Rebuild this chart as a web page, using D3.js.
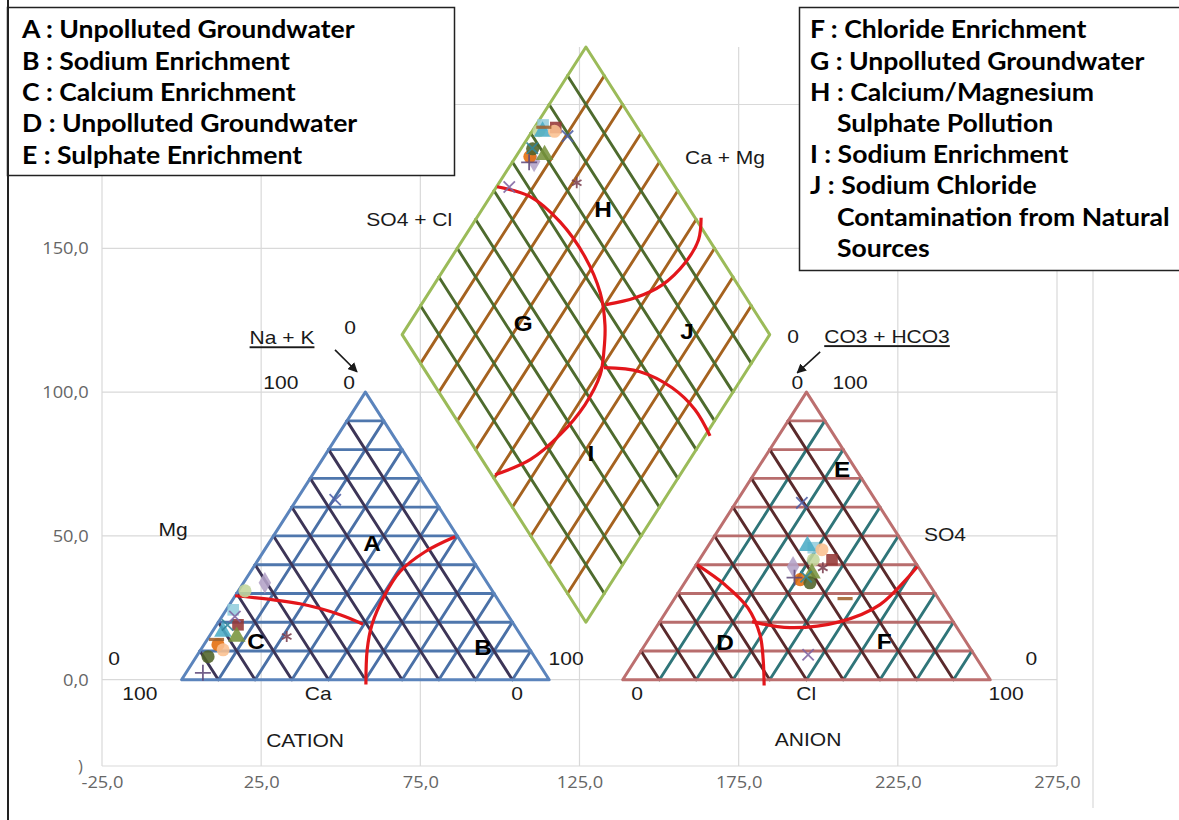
<!DOCTYPE html>
<html>
<head>
<meta charset="utf-8">
<title>Piper diagram</title>
<script src="https://cdn.jsdelivr.net/npm/d3@7"></script>
<style>
  body { margin: 0; background: #fff; }
  svg { display: block; }
  .tk { font-family: "Open Sans", sans-serif; font-size: 16.5px; fill: #666; }
  .lab { font-family: "Liberation Sans", Arial, sans-serif; font-size: 19px; fill: #1a1a1a; }
  .zone { font-family: "Liberation Sans", Arial, sans-serif; font-weight: bold; font-size: 22px; fill: #000; }
  .leg { font-family: Lato, sans-serif; font-weight: bold; font-size: 24px; fill: #000; }
</style>
</head>
<body>
<script>
// ---- samples (meq %) ----
// cations
var mg  = [33.7, 30.9, 24.3, 19.1, 16.7, 15.0, 12.2, 10.4,  8.0,  2.4, 15.0, 62.6, 19.0, 22.0, 14.0];
var nak = [ 5.8,  1.8,  1.9,  5.8,  2.9,  7.5,  3.8,  6.1,  3.2,  4.6, 21.1, 10.5,  3.0,  3.5,  2.5];
var ca  = [60.5, 67.3, 73.8, 75.1, 80.4, 77.5, 84.0, 83.5, 88.8, 93.0, 63.9, 26.9, 78.0, 74.5, 83.5];
// anions
var so4  = [39.3, 41.7, 45.9, 41.7, 46.5, 37.0, 34.8, 45.2, 33.7, 35.5, 38.9, 61.5, 35.8,  8.7, 28.2];
var cl   = [26.7, 31.0, 28.9, 36.1, 27.0, 33.0, 30.9, 31.6, 34.1, 29.0, 35.0, 18.0, 32.0, 46.1, 46.4];
var hco3 = [34.0, 27.3, 25.2, 22.2, 26.5, 30.0, 34.3, 23.2, 32.2, 35.5, 26.1, 20.5, 32.2, 45.2, 25.4];

var xTicks = [-25, 25, 75, 125, 175, 225, 275];
var yTicks = [0, 50, 100, 150];
var yGrid = [-30, 0, 50, 100, 150, 200];

var legendLeft = ["A : Unpolluted Groundwater", "B : Sodium Enrichment", "C : Calcium Enrichment",
                  "D : Unpolluted Groundwater", "E : Sulphate Enrichment"];
var legendRight = ["F : Chloride Enrichment", "G : Unpolluted Groundwater", "H : Calcium/Magnesium",
                   "Sulphate Pollution", "I : Sodium Enrichment", "J :  Sodium Chloride",
                   "Contamination from Natural", "Sources"];

// ---- geometry (chart units: triangle height = 100) ----
var S = 200 / Math.sqrt(3), GAP = 0.2 * S, AX = S + GAP, DX = S + GAP / 2, DY = 20;
function cat(na, m) { return [S * na / 100 + S / 2 * m / 100, m]; }
function an(c, s) { return [AX + S * c / 100 + S / 2 * s / 100, s]; }
function dia(p, q) { return [DX + S / 2 * (q - p), DY + 100 * (p + q)]; }

var W = 1179, H = 820, SX = 1.107;
var svg = d3.select("body").append("svg").attr("width", W).attr("height", H);
var x = d3.scaleLinear().domain([-25, 275]).range([102, 1057]);
var y = d3.scaleLinear().domain([-30, 220]).range([766, 47]);

// gridlines
var grid = svg.append("g").attr("stroke", "#d9d9d9").attr("stroke-width", 1.2);
grid.selectAll(".gx").data(xTicks).enter().append("line")
  .attr("x1", d => x(d)).attr("x2", d => x(d)).attr("y1", y(-30)).attr("y2", y(220));
grid.selectAll(".gy").data(yGrid).enter().append("line")
  .attr("x1", x(-25)).attr("x2", x(275)).attr("y1", d => y(d)).attr("y2", d => y(d));

var fmt = d => d3.format(".1f")(d).replace(".", ",").replace("\u2212", "-");
var xa = svg.append("g").attr("transform", "translate(0," + y(-30) + ")")
  .call(d3.axisBottom(x).tickValues(xTicks).tickSize(0).tickPadding(10).tickFormat(fmt));
xa.select(".domain").remove();
xa.selectAll("text").attr("class", "tk").attr("transform", "scale(" + SX + ",1)");
var ya = svg.append("g").attr("transform", "translate(" + x(-25) + ",0)")
  .call(d3.axisLeft(y).tickValues(yTicks).tickSize(0).tickPadding(12).tickFormat(fmt));
ya.select(".domain").remove();
ya.selectAll("text").attr("class", "tk").attr("transform", "scale(" + SX + ",1)");
svg.append("text").attr("class", "tk").attr("x", 78).attr("y", y(-30)).attr("dy", "0.35em").text(")");

// ---- ternary grids ----
var line = d3.line().x(d => x(d[0])).y(d => y(d[1]));
var steps = d3.range(10, 100, 10);
function drawSet(g, segs, col) {
  g.selectAll(null).data(segs).enter().append("path")
    .attr("d", d => line(d)).attr("stroke", col).attr("stroke-width", 2.9).attr("fill", "none");
}
var tg = svg.append("g").attr("stroke-linecap", "round");

// cation
drawSet(tg, steps.map(v => [cat(0, v), cat(100 - v, v)]), "#4f77ad");
drawSet(tg, steps.map(v => [cat(v, 0), cat(v, 100 - v)]), "#4a70a6");
drawSet(tg, steps.map(v => [cat(100 - v, 0), cat(0, 100 - v)]), "#3d3557");
tg.append("path").attr("d", line([cat(0, 0), cat(100, 0), cat(0, 100)]) + "Z")
  .attr("fill", "none").attr("stroke", "#5b84bc").attr("stroke-width", 3).attr("stroke-linejoin", "round");
// anion
drawSet(tg, steps.map(v => [an(0, v), an(100 - v, v)]), "#b86d6d");
drawSet(tg, steps.map(v => [an(v, 0), an(v, 100 - v)]), "#2f7579");
drawSet(tg, steps.map(v => [an(100 - v, 0), an(0, 100 - v)]), "#5a2a2c");
tg.append("path").attr("d", line([an(0, 0), an(100, 0), an(0, 100)]) + "Z")
  .attr("fill", "none").attr("stroke", "#bc6f6f").attr("stroke-width", 3).attr("stroke-linejoin", "round");
// diamond
drawSet(tg, steps.map(v => [dia(v / 100, 0), dia(v / 100, 1)]), "#a5621f");
drawSet(tg, steps.map(v => [dia(0, v / 100), dia(1, v / 100)]), "#4e6b2e");
tg.append("path").attr("d", line([dia(0, 0), dia(1, 0), dia(1, 1), dia(0, 1)]) + "Z")
  .attr("fill", "none").attr("stroke", "#9bbb59").attr("stroke-width", 3).attr("stroke-linejoin", "round");

// ---- zone boundaries (chart units) ----
var bounds = [
  [[16.8, 29.2], [37.2, 26.4], [49.8, 22.6], [57.0, 19.3]],
  [[85.9, 49.7], [76.5, 44.5], [68.6, 37.6], [63.9, 29.6], [59.8, 19.1], [58.3, 10.4], [57.9, -1.7]],
  [[161.9, 40], [170.7, 33], [177.9, 25], [181.7, 15.6], [182.7, 7], [183, -2]],
  [[179.2, 20.2], [191.1, 18.1], [206.9, 20.2], [219.4, 26.1], [231.1, 39.3]],
  [[99.1, 171.4], [109.5, 168], [118.9, 159.2], [126.7, 147.1], [131.5, 134.6], [133, 123.4],
   [132.7, 114.7], [131.5, 106], [126.7, 95.6], [118.9, 85.2], [109.5, 76.5], [98.5, 71.3]],
  [[133.3, 130.4], [142.5, 132.8], [151, 137.3], [158.2, 145], [162.4, 153], [163.2, 160.6]],
  [[132.7, 108.5], [144, 107.1], [154.1, 101.5], [161.3, 93.9], [166, 84.8]]
];
var curve = d3.line().x(d => x(d[0])).y(d => y(d[1])).curve(d3.curveCatmullRom);
svg.append("g").selectAll("path").data(bounds).enter().append("path")
  .attr("d", curve).attr("fill", "none").attr("stroke", "#e3161b").attr("stroke-width", 3.2);

// ---- samples ----
var dash = { draw: function (ctx, size) { var w = Math.sqrt(size) * 1.3; ctx.rect(-w / 2, -1.6, w, 3.2); } };
var styles = [
  { t: d3.symbolDiamond, c: "#b3a2c7" }, { t: d3.symbolCircle, c: "#c3d69b" },
  { t: d3.symbolSquare, c: "#93cddd" }, { t: d3.symbolSquare, c: "#953735" },
  { t: d3.symbolTriangle, c: "#4bacc6" }, { t: d3.symbolTriangle, c: "#77933c" },
  { t: d3.symbolCircle, c: "#e46c0a" }, { t: d3.symbolCircle, c: "#fac090" },
  { t: d3.symbolCircle, c: "#4f6228" }, { t: d3.symbolPlus, c: "#604a7b", s: true },
  { t: d3.symbolAsterisk, c: "#7b3f4f", s: true }, { t: d3.symbolTimes, c: "#4f5fa6", s: true },
  { t: d3.symbolTimes, c: "#31859c", s: true }, { t: d3.symbolTimes, c: "#8064a2", s: true },
  { t: dash, c: "#a0622d" }
];
var pts = [];
mg.forEach(function (m, i) {
  var p = (ca[i] + m) / 100, q = (so4[i] + cl[i]) / 100;
  pts.push({ i: i, xy: cat(nak[i], m) });
  pts.push({ i: i, xy: an(cl[i], so4[i]) });
  pts.push({ i: i, xy: dia(p, q) });
});
svg.append("g").selectAll("path").data(pts).enter().append("path")
  .attr("transform", d => "translate(" + x(d.xy[0]) + "," + y(d.xy[1]) + ")")
  .attr("d", d => d3.symbol(styles[d.i].t, styles[d.i].s ? 85 : 135)())
  .attr("fill", d => styles[d.i].s ? "none" : styles[d.i].c)
  .attr("stroke", d => styles[d.i].s ? styles[d.i].c : "none")
  .attr("stroke-width", 1.8).attr("opacity", 0.88);

// ---- annotations ----
function txt(g, px, py, s, cls, anchor) {
  return g.append("text").attr("class", cls)
    .attr("transform", "translate(" + px + "," + py + ") scale(" + SX + ",1)")
    .attr("text-anchor", anchor || "middle").attr("dy", "0.35em").text(s);
}
var labels = [
  ["Na + K", 31.55, 118.9, 1], ["0", 52.9, 122.4], ["100", 31.2, 103.3], ["0", 52.6, 103.3],
  ["Mg", -2.7, 52.2], ["0", -21.2, 7.3], ["100", -13.1, -4.9], ["Ca", 42.9, -4.9],
  ["0", 105.4, -4.9], ["100", 120.8, 7.3], ["CATION", 38.8, -21.2],
  ["SO4 + Cl", 71.5, 160], ["Ca + Mg", 170.7, 181.5],
  ["0", 192.1, 119.3], ["CO3 + HCO3", 221.6, 119.3, 1], ["0", 193.4, 103.3], ["100", 210, 103.3],
  ["SO4", 239.8, 50.4], ["0", 143.1, -4.9], ["Cl", 196.2, -4.9], ["100", 259, -4.9],
  ["0", 266.9, 7.3], ["ANION", 196.8, -20.9]
];
var lg = svg.append("g");
labels.forEach(function (l) {
  var t = txt(lg, x(l[1]), y(l[2]), l[0], "lab");
  if (l[3]) t.style("text-decoration", "underline");
});
svg.append("defs").append("marker").attr("id", "arr").attr("viewBox", "0 0 10 10")
  .attr("refX", 9).attr("refY", 5).attr("markerWidth", 6).attr("markerHeight", 6).attr("orient", "auto")
  .append("path").attr("d", "M0,0L10,5L0,10z").attr("fill", "#1a1a1a");
[[[48.2, 114.7], [55.1, 107.1]], [[200.6, 114], [193.4, 106.7]]].forEach(function (a) {
  svg.append("path").attr("d", line(a)).attr("stroke", "#1a1a1a").attr("stroke-width", 1.6)
    .attr("marker-end", "url(#arr)");
});
var zones = [["A", 59.8, 47.6], ["B", 94.7, 11.1], ["C", 23.4, 13.2], ["D", 170.7, 12.9], ["E", 207.5, 73],
             ["F", 220.7, 13.2], ["G", 107.3, 124.1], ["H", 132.4, 163.4], ["I", 128.6, 78.9], ["J", 158.8, 121]];
zones.forEach(z => txt(lg, x(z[1]), y(z[2]), z[0], "zone"));

// ---- legends ----
svg.append("line").attr("x1", 1093).attr("x2", 1093).attr("y1", 270).attr("y2", 808)
  .attr("stroke", "#d9d9d9").attr("stroke-width", 1.2);
var leg = svg.append("g");
leg.append("rect").attr("x", 7.5).attr("y", 7.5).attr("width", 447).attr("height", 168)
  .attr("fill", "#fff").attr("stroke", "#222").attr("stroke-width", 1.5);
legendLeft.forEach((s, i) => txt(leg, 22, 30 + i * 31.3, s, "leg", "start"));
leg.append("rect").attr("x", 799.5).attr("y", 7.5).attr("width", 400).attr("height", 263)
  .attr("fill", "#fff").attr("stroke", "#222").attr("stroke-width", 1.5);
var indent = [0, 0, 0, 1, 0, 0, 1, 1];
legendRight.forEach((s, i) => txt(leg, indent[i] ? 837 : 810, 30 + i * 31.2, s, "leg", "start"));
svg.append("line").attr("x1", 8).attr("x2", 8).attr("y1", 0).attr("y2", H)
  .attr("stroke", "#222").attr("stroke-width", 2);
</script>
</body>
</html>
